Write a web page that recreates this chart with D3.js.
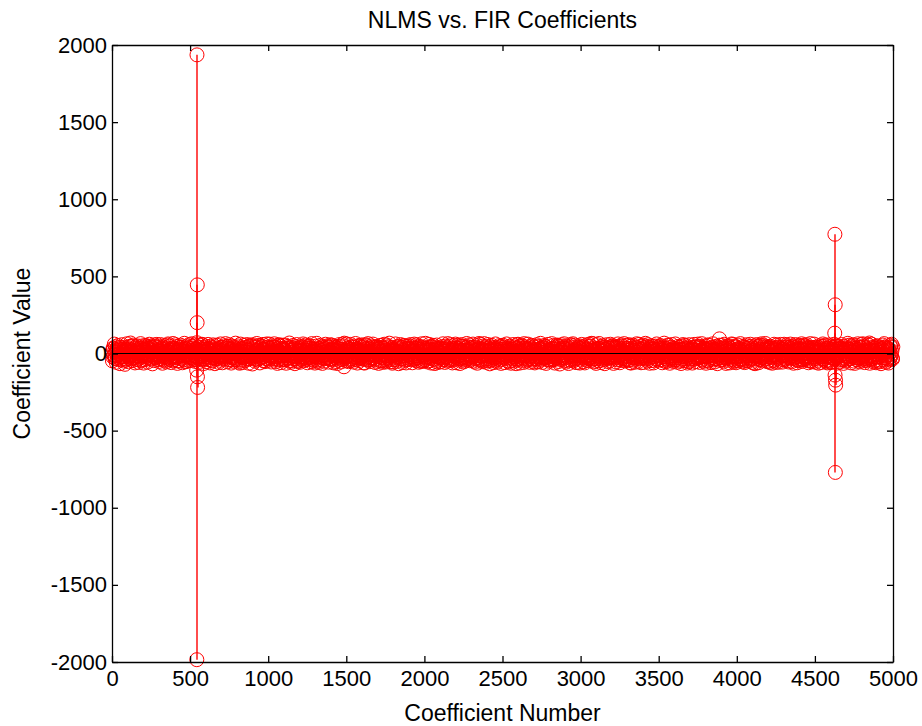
<!DOCTYPE html>
<html>
<head>
<meta charset="utf-8">
<script src="https://cdn.jsdelivr.net/npm/d3@7"></script>
<style>
  body { margin: 0; background: #fff; }
  svg text { font-family: "Liberation Sans", Arial, sans-serif; fill: #000; }
</style>
</head>
<body>
<svg id="chart" width="922" height="726"></svg>
<script>
// stem plot: coefficient number vs value
var xTicks = [0, 500, 1000, 1500, 2000, 2500, 3000, 3500, 4000, 4500, 5000];
var yTicks = [-2000, -1500, -1000, -500, 0, 500, 1000, 1500, 2000];

// dense band of small coefficients, two interleaved runs, one value every 4
// coefficient numbers (each row covers 100 coefficient numbers)
var bandStep = 4;
var bandStartA = 1;
var bandValuesA = [
  14,-22,30,-9,17,-33,6,24,-15,36,-4,20,-28,10,-41,26,-12,3,-21,31,-7,16,-35,22,-2,
  39,-18,8,27,-25,12,-10,48,-29,17,-5,33,-14,21,-38,9,25,-19,4,-30,37,-11,15,-44,23,
  -3,28,-17,7,-32,19,-8,41,-23,13,-1,29,-36,18,-6,34,-20,11,-27,45,-13,2,24,-39,16,
  21,-9,-31,12,33,-17,3,-42,24,-13,30,-4,15,-28,55,-21,10,-37,25,-9,18,-26,6,36,-15,
  -16,34,-24,7,19,-47,13,-3,28,-20,40,-10,16,-32,5,23,-15,-52,31,-7,12,-25,38,-18,9,
  11,-27,22,-12,36,-5,17,-39,8,26,-18,4,-30,43,-14,20,-8,29,-22,58,-34,14,-6,27,-11,
  -34,9,-17,25,-4,32,-25,14,-45,19,-10,38,-2,-28,21,-13,27,-36,6,16,-20,33,-9,3,-26,
  -20,41,-7,23,-31,10,-16,35,-23,3,46,-11,18,-40,29,-6,13,-26,32,-15,7,-37,22,-3,30,
  7,-43,21,-9,-63,27,-19,12,34,-3,-29,15,-12,39,-21,8,-34,24,-5,20,-14,31,-27,11,-8,
  -25,30,-13,4,-38,17,44,-10,22,-17,9,-32,36,-7,14,-24,28,-3,-47,19,-11,26,-35,5,40,
  11,-15,33,-28,6,25,-20,-4,42,-12,18,-36,10,-23,29,-8,54,-19,15,-31,2,-42,21,-14,35,
  23,-6,-41,13,31,-14,5,-27,37,-10,20,-45,8,26,-17,-2,34,-22,12,-33,24,-9,-51,17,-4,
  17,-9,28,-37,3,22,-25,40,-13,7,-30,19,-5,35,-18,49,-11,-24,14,-39,9,27,-16,31,-21,
  27,-4,16,-21,-50,10,32,-16,21,-8,38,-29,5,-14,24,-34,12,-7,30,-19,43,-26,8,-12,19,
  8,-42,25,-11,36,-23,15,-3,-31,20,-15,44,-9,28,-26,4,-37,18,-13,61,-22,-86,11,-6,24,
  -22,11,-6,33,-35,22,-17,9,27,-44,16,-2,39,-20,7,-28,23,-10,31,-16,13,-33,46,-7,20,
  5,-33,19,-12,-62,29,-7,14,-25,36,-18,10,-40,25,-4,17,-29,42,-14,21,-5,-38,26,-11,33,
  -8,28,-21,6,34,-27,13,-46,20,-5,31,-15,-56,23,-11,37,-24,9,-32,15,-2,24,-17,40,-10,
  26,-13,4,-38,18,-9,43,-20,11,-30,24,-3,32,-17,8,-35,51,-12,19,-25,6,-41,14,-7,29,
  -5,30,-16,12,-41,22,-7,35,-22,15,-34,3,27,-14,40,-27,10,-19,28,-49,17,-8,37,-23,9,
  16,-10,25,-31,7,38,-18,13,-26,21,-4,46,-23,9,-36,18,-13,29,-8,-54,33,-20,4,-29,12,
  32,-19,6,23,-29,14,-39,27,-6,17,-24,36,-11,3,-43,25,-16,11,-32,20,-45,8,30,-14,22,
  -3,37,-25,10,-17,30,-35,15,-9,48,-21,7,-28,22,-12,34,-40,18,-5,26,-31,13,-18,39,-7,
  -30,12,-20,41,-8,19,-34,4,24,-15,31,-27,65,-13,16,-38,9,28,-22,13,-3,35,-44,20,-10,
  -7,35,-18,6,-45,20,-11,29,-26,14,-3,39,-31,23,-14,10,-36,31,-9,17,-24,42,-6,15,-37,
  13,-21,29,-7,16,-32,5,23,-16,35,-5,19,-27,11,-46,25,-10,4,-20,32,-8,15,-34,57,-3,
  38,-17,9,26,-24,13,-11,47,-30,16,-6,34,-15,20,-37,10,24,-18,5,-31,36,-12,16,-43,22,
  -4,27,-18,8,-33,20,-9,42,-22,12,-2,30,-35,17,-7,33,-21,10,-28,44,-14,3,23,-40,15,
  20,-8,-32,13,34,-16,4,-41,25,-12,29,-5,16,-29,53,-20,11,-38,24,-10,19,-25,7,37,-16,
  -15,35,-23,8,20,-48,12,-4,29,-19,41,-9,17,-31,6,22,-16,-58,30,-8,13,-24,39,-17,10,
  12,-28,23,-11,37,-6,18,-38,9,27,-17,5,-29,44,-13,21,-9,30,-21,64,-33,15,-7,28,-12,
  -33,10,-16,26,-5,33,-24,15,-44,20,-11,37,-3,-27,22,-12,28,-35,7,17,-19,34,-8,4,-25,
  -19,40,-8,24,-30,11,-15,36,-22,4,47,-12,19,-39,28,-7,14,-25,33,-14,8,-36,21,-4,31,
  8,-41,22,-10,-60,26,-18,13,35,-4,-28,16,-11,38,-22,9,-33,25,-6,21,-13,30,-26,12,-9,
  -24,31,-14,5,-37,18,45,-9,23,-16,10,-31,37,-6,15,-23,29,-4,-48,20,-10,27,-34,6,41,
  10,-16,32,-27,7,26,-19,-5,43,-11,17,-35,11,-22,30,-9,52,-18,16,-30,3,-43,22,-13,34,
  24,-5,-40,14,30,-15,6,-26,38,-9,21,-44,9,27,-16,-3,35,-21,13,-32,25,-8,-53,18,-5,
  18,-10,29,-36,4,23,-24,41,-12,8,-29,20,-6,36,-17,47,-12,-23,15,-38,10,28,-15,32,-20,
  28,-5,17,-20,-49,11,33,-15,22,-7,39,-28,6,-13,25,-33,13,-6,31,-18,42,-25,95,-11,20,
  9,-41,26,-10,35,-22,16,-4,-30,21,-14,45,-8,29,-25,5,-36,19,-12,59,-21,-47,12,-5,25,
  -21,12,-5,34,-34,23,-16,10,28,-43,17,-3,40,-19,8,-27,24,-9,32,-15,14,-32,47,-6,21,
  6,-32,20,-11,-66,30,-6,15,-24,37,-17,11,-39,26,-5,18,-28,43,-13,22,-4,-37,27,-10,34,
  -7,29,-20,7,35,-26,14,-45,21,-4,32,-14,-57,24,-10,38,-23,10,-31,16,-3,25,-16,41,-9,
  27,-12,5,-37,19,-8,44,-19,12,-29,25,-2,33,-16,9,-34,50,-11,20,-24,7,-40,15,-6,30,
  -4,31,-15,13,-40,23,-6,36,-21,16,-33,4,28,-13,41,-26,11,-18,29,-48,18,-7,38,-22,10,
  17,-11,26,-30,8,39,-17,14,-25,22,-3,47,-22,10,-35,19,-12,30,-7,-55,34,-19,5,-28,13,
  33,-18,7,24,-28,15,-38,28,-5,18,-23,37,-10,4,-42,26,-15,12,-31,21,-44,9,31,-13,23,
  -2,38,-24,11,-16,31,-34,16,-8,49,-20,8,-27,23,-11,35,-39,19,-4,27,-30,14,-17,40,-6,
  -29,13,-19,42,-7,20,-33,5,25,-14,32,-26,68,-12,17,-37,10,29,-21,14,-2,36,-43,21,-9,
  -6,36,-17,7,-44,21,-10,30,-25,15,-2,40,-30,24,-13,11,-35,32,-8,18,-23,43,-5,16,-36
];

var bandStartB = 3;
var bandValuesB = [
  -48,35,-12,61,-29,44,-57,18,-38,52,-6,29,-66,40,-21,57,-33,11,-49,38,-70,24,-43,63,-15,
  31,-54,46,-9,68,-36,22,-47,55,-27,13,-61,42,-18,50,-39,7,-58,33,-45,64,-24,49,-11,37,
  -62,27,-41,53,-19,45,-56,34,-8,60,-31,48,-14,39,-67,21,-46,56,-26,43,-5,59,-37,30,-52,
  44,-17,58,-34,26,-63,41,-23,51,-45,9,-55,36,-29,62,-12,47,-40,19,-59,35,-48,65,-20,28,
  -39,57,-25,46,-64,16,-50,38,-30,54,-11,43,-60,28,-42,66,-16,32,-53,49,-7,37,-46,58,-27,
  20,-45,63,-32,47,-13,55,-51,29,-38,70,-24,41,-57,14,-36,52,-19,60,-43,25,-65,39,-10,48,
  -53,32,-18,59,-40,24,-61,46,-9,37,-49,56,-28,17,-66,43,-35,54,-22,30,-58,11,-44,62,-31,
  40,-60,26,-15,50,-37,64,-21,45,-54,33,-8,57,-42,23,-62,48,-30,16,-51,42,-26,67,-39,12,
  -30,49,-56,37,-20,61,-44,13,-59,35,-25,52,-47,27,-10,58,-38,44,-63,21,-34,55,-17,46,-68,
  56,-23,41,-50,18,-35,65,-42,30,-14,53,-61,38,-27,47,-6,59,-45,24,-53,36,-12,62,-33,43,
  -44,61,-28,17,-55,39,-12,50,-36,63,-20,44,-52,31,-64,15,-41,57,-24,48,-59,29,-9,54,-37,
  25,-41,55,-63,34,-18,46,-30,68,-49,21,-57,40,-13,52,-35,28,-66,45,-22,58,-43,14,-50,36,
  -57,38,-21,47,-33,62,-48,26,-11,55,-39,19,-60,43,-28,51,-16,36,-54,64,-31,23,-45,9,-62,
  47,-27,66,-42,14,-58,31,-37,53,-19,45,-64,24,-50,37,-8,60,-32,49,-25,15,-56,41,-36,57,
  -35,54,-14,29,-61,48,-26,40,-52,22,-65,33,-43,58,-17,44,-55,27,-39,50,-11,67,-30,19,-47,
  62,-19,37,-53,25,-45,59,-10,42,-34,16,-56,48,-23,65,-40,30,-62,20,-46,53,-28,38,-15,56,
  -24,43,-60,15,-38,57,-31,51,-18,64,-44,26,-53,35,-7,49,-36,61,-27,13,-58,40,-21,46,-51,
  39,-64,28,-46,53,-12,41,-57,33,-25,60,-37,18,-48,55,-30,44,-15,67,-41,22,-54,32,-63,27,
  -55,21,-40,62,-29,36,-50,14,-66,47,-20,58,-34,40,-59,25,-13,52,-45,31,-61,48,-26,35,-8,
  50,-33,58,-21,44,-60,23,-39,61,-15,35,-47,56,-28,12,-57,46,-36,27,-52,63,-18,43,-49,30,
  -41,66,-23,34,-55,19,-47,59,-31,28,-62,41,-14,53,-38,23,-65,36,-20,55,-44,17,-58,38,-26,
  29,-52,44,-16,63,-39,26,-58,48,-22,37,-50,64,-27,45,-11,57,-42,33,-61,24,-37,51,-19,61,
  -60,35,-12,54,-43,30,-65,21,-36,58,-28,47,-55,16,-49,39,-24,65,-33,44,-10,56,-47,26,-38,
  37,-20,61,-49,18,-56,42,-30,52,-63,23,-41,35,-17,60,-45,29,-53,48,-14,64,-35,21,-57,45,
  -46,58,-33,25,-67,44,-19,53,-40,15,-59,31,-48,62,-22,37,-56,19,-30,51,-42,27,-64,49,-13,
  54,-28,40,-59,32,-14,62,-46,22,-55,47,-11,38,-63,27,-35,58,-24,43,-50,16,-66,36,-42,60,
  -32,47,-62,20,-44,55,-26,36,-58,64,-17,42,-49,30,-13,61,-39,24,-57,45,-21,53,-35,12,-54,
  43,-61,19,-37,57,-24,48,-53,29,-16,66,-43,23,-58,39,-28,52,-11,46,-64,31,-25,59,-40,21,
  -51,26,-43,64,-20,50,-34,13,-62,41,-30,55,-15,47,-52,33,-68,20,-37,57,-27,44,-9,63,-45,
  28,-56,49,-25,37,-65,17,-42,58,-31,52,-20,63,-48,14,-39,54,-33,26,-59,41,-14,50,-62,34,
  -37,59,-16,45,-53,27,-61,38,-21,56,-46,18,-35,61,-29,48,-12,66,-42,22,-55,35,-50,24,-64,
  58,-22,35,-47,65,-32,20,-59,44,-12,51,-38,28,-66,42,-19,57,-27,39,-53,13,-45,60,-30,47,
  -23,51,-64,33,-17,43,-55,25,-41,62,-26,36,-60,17,-44,56,-34,45,-24,64,-48,10,-39,53,-19,
  33,-46,57,-14,48,-62,30,-26,54,-43,20,-57,43,-30,63,-16,38,-51,59,-35,25,-60,46,-23,55,
  -58,40,-27,66,-35,14,-49,57,-18,39,-63,28,-46,50,-9,44,-61,32,-20,48,-37,62,-14,31,-43,
  46,-15,52,-40,23,-60,36,-48,67,-22,33,-54,15,-37,55,-45,21,-63,40,-26,58,-32,29,-52,18,
  -43,62,-30,19,-57,46,-11,40,-50,27,-65,49,-21,58,-34,26,-47,53,-16,36,-62,43,-28,57,-36,
  24,-49,38,-62,29,-20,59,-36,16,-53,45,-31,61,-12,42,-58,33,-25,64,-44,19,-51,37,-17,49,
  -63,30,-45,56,-13,52,-38,24,-59,37,-24,63,-42,28,-55,18,-36,47,-66,24,-15,54,-45,33,-27,
  52,-38,17,-51,60,-26,45,-64,34,-18,50,-44,25,-61,36,-21,62,-39,14,-56,48,-29,41,-60,22,
  -26,55,-48,31,-19,64,-41,12,-54,46,-33,21,-59,38,-47,57,-14,34,-50,43,-25,60,-38,17,-57,
  35,-62,23,-43,50,-17,58,-32,47,-60,14,-39,54,-26,63,-48,29,-17,51,-36,65,-21,44,-53,39,
  -49,20,-58,47,-24,38,-63,29,-13,60,-45,36,-20,55,-31,42,-57,22,-43,59,-12,33,-56,26,-41,
  60,-31,43,-18,56,-47,14,-55,40,-28,61,-16,46,-51,24,-63,37,-28,58,-19,44,-60,30,-47,53,
  -20,46,-35,63,-52,22,-40,55,-27,48,-12,57,-44,33,-60,19,-49,64,-31,38,-54,24,-17,61,-33,
  41,-57,31,-45,17,-63,51,-21,38,-58,26,-34,62,-40,49,-15,55,-47,23,-61,36,-43,56,-25,45,
  -59,27,-52,39,-29,60,-36,48,-17,53,-62,30,-24,45,-56,35,-11,58,-39,29,-64,47,-32,20,-50,
  30,-43,66,-21,54,-34,26,-61,43,-15,57,-49,18,-64,34,-27,51,-42,63,-23,40,-55,13,-45,59,
  -34,63,-19,48,-59,15,-46,37,-25,58,-40,52,-63,23,-37,61,-29,41,-55,17,-48,33,-60,49,-21,
  49,-24,39,-54,26,-66,33,-15,55,-42,64,-28,44,-57,19,-50,35,-62,27,-40,52,-18,60,-30,43
];

// the two large spikes
var spikeIndex = [542, 543, 544, 545, 546, 547, 548,
                  4627, 4628, 4629, 4630, 4631, 4632, 4633];
var spikeValues = [-108, -1985, 1936, 200, 445, -151, -220,
                   132, 773, -140, 316, -771, -173, -205];

var points = [];
bandValuesA.forEach(function (v, i) {
  points.push({ n: bandStartA + i * bandStep, v: v });
});
bandValuesB.forEach(function (v, i) {
  points.push({ n: bandStartB + i * bandStep, v: v });
});
spikeIndex.forEach(function (n, i) {
  points.push({ n: n, v: spikeValues[i] });
});

var margin = { left: 112, right: 29, top: 45, bottom: 64 };
var width = 922, height = 726;
var svg = d3.select('#chart');

var x = d3.scaleLinear().domain([0, 5000]).range([margin.left, width - margin.right]);
var y = d3.scaleLinear().domain([-2000, 2000]).range([height - margin.bottom, margin.top]);

var red = '#ff0000';

// stems (sit on a pixel edge so they stay red after antialiasing)
svg.append('g')
  .selectAll('line')
  .data(points)
  .join('line')
  .attr('x1', function (d) { return Math.round(x(d.n)); })
  .attr('x2', function (d) { return Math.round(x(d.n)); })
  .attr('y1', y(0))
  .attr('y2', function (d) { return y(d.v); })
  .attr('stroke', red)
  .attr('stroke-width', 1.4);

// markers
svg.append('g')
  .selectAll('circle')
  .data(points)
  .join('circle')
  .attr('cx', function (d) { return x(d.n); })
  .attr('cy', function (d) { return y(d.v); })
  .attr('r', 7)
  .attr('fill', 'none')
  .attr('stroke', red)
  .attr('stroke-width', 1);

// baseline
svg.append('line')
  .attr('x1', x(0)).attr('x2', x(5000))
  .attr('y1', y(0)).attr('y2', y(0))
  .attr('stroke', '#000')
  .attr('stroke-width', 1);

// axes on all four sides, ticks pointing inward
var tickLen = 6;
var plain = function (d) { return String(d); };
function styleAxis(g) {
  g.attr('font-family', null).attr('font-size', null);
  g.select('.domain').attr('stroke', '#000').attr('stroke-width', 1.3);
  g.selectAll('.tick line').attr('stroke', '#000').attr('stroke-width', 1.3);
  g.selectAll('text').style('font-size', '22px').attr('fill', '#000');
}

svg.append('g')
  .attr('transform', 'translate(0,' + y(-2000) + ')')
  .call(d3.axisBottom(x).tickValues(xTicks).tickFormat(plain).tickSizeInner(-tickLen).tickSizeOuter(0).tickPadding(8))
  .call(styleAxis);

svg.append('g')
  .attr('transform', 'translate(0,' + y(2000) + ')')
  .call(d3.axisTop(x).tickValues(xTicks).tickSizeInner(-tickLen).tickSizeOuter(0).tickFormat(''))
  .call(styleAxis);

svg.append('g')
  .attr('transform', 'translate(' + x(0) + ',0)')
  .call(d3.axisLeft(y).tickValues(yTicks).tickFormat(plain).tickSizeInner(-tickLen).tickSizeOuter(0).tickPadding(5))
  .call(styleAxis);

svg.append('g')
  .attr('transform', 'translate(' + x(5000) + ',0)')
  .call(d3.axisRight(y).tickValues(yTicks).tickSizeInner(-tickLen).tickSizeOuter(0).tickFormat(''))
  .call(styleAxis);

// titles
svg.append('text')
  .attr('x', (x(0) + x(5000)) / 2)
  .attr('y', 28)
  .attr('text-anchor', 'middle')
  .style('font-size', '23px')
  .text('NLMS vs. FIR Coefficients');

svg.append('text')
  .attr('x', (x(0) + x(5000)) / 2)
  .attr('y', 721)
  .attr('text-anchor', 'middle')
  .style('font-size', '23px')
  .text('Coefficient Number');

svg.append('text')
  .attr('transform', 'translate(30,' + y(0) + ') rotate(-90)')
  .attr('text-anchor', 'middle')
  .style('font-size', '23px')
  .text('Coefficient Value');
</script>
</body>
</html>
